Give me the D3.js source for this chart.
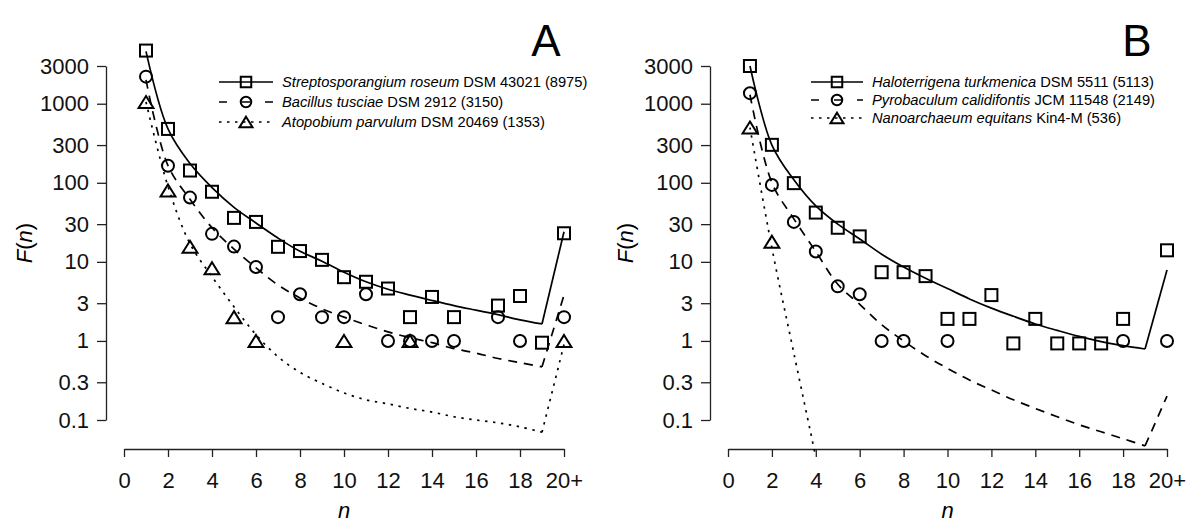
<!DOCTYPE html>
<html>
<head>
<meta charset="utf-8">
<script src="https://cdnjs.cloudflare.com/ajax/libs/d3/7.8.5/d3.min.js"></script>
<style>
  body { margin: 0; background: #fff; }
  svg { display: block; font-family: "Liberation Sans", Arial, Helvetica, sans-serif; }
</style>
</head>
<body>
<div id="chart"></div>
<script>
// n = 1..19, last slot is the "20+" bin
const nValues = d3.range(1, 21);
const xTicks = [0, 2, 4, 6, 8, 10, 12, 14, 16, 18, 20];
const yTicks = [0.1, 0.3, 1, 3, 10, 30, 100, 300, 1000, 3000];

// Panel A
const speciesA = ["Streptosporangium roseum", "Bacillus tusciae", "Atopobium parvulum"];
const strainA = ["DSM 43021 (8975)", "DSM 2912 (3150)", "DSM 20469 (1353)"];
const strepObs = [4700, 480, 143, 77, 36, 32, 15.5, 13.7, 10.6, 6.4, 5.6, 4.6, 2, 3.6, 2, null, 2.8, 3.7, 0.95, 23];
const strepFit = [4600, 480, 175, 87, 49, 31, 20, 13.6, 10.2, 7.4, 5.6, 4.5, 3.8, 3.25, 2.8, 2.45, 2.15, 1.85, 1.64, 24];
const bacilObs = [2200, 164, 65, 22.6, 15.6, 8.6, 2, 3.9, 2, 2, 3.9, 1, 1, 1, 1, null, 2, 1, null, 2];
const bacilFit = [2000, 165, 62, 27, 14.5, 8.4, 5.1, 3.5, 2.55, 2, 1.6, 1.3, 1.1, 0.95, 0.8, 0.7, 0.6, 0.53, 0.47, 3.8];
const atopoObs = [1050, 80, 15.5, 8.3, 2, 1, null, null, null, 1, null, null, 1, null, null, null, null, null, null, 1];
const atopoFit = [1050, 90, 17, 6.5, 2.7, 1.2, 0.63, 0.4, 0.29, 0.22, 0.18, 0.16, 0.14, 0.126, 0.11, 0.1, 0.092, 0.082, 0.07, 0.9];

// Panel B
const speciesB = ["Haloterrigena turkmenica", "Pyrobaculum calidifontis", "Nanoarchaeum equitans"];
const strainB = ["DSM 5511 (5113)", "JCM 11548 (2149)", "Kin4-M (536)"];
const haloObs = [3000, 302, 99, 42, 27, 21, 7.4, 7.4, 6.6, 1.9, 1.9, 3.8, 0.93, 1.9, 0.93, 0.93, 0.93, 1.9, null, 14];
const haloFit = [3000, 300, 109, 51, 30, 19.5, 12.5, 8.6, 6.2, 4.6, 3.4, 2.6, 2.05, 1.64, 1.36, 1.14, 0.98, 0.87, 0.79, 7.9];
const pyroObs = [1360, 94, 32, 13.5, 4.9, 3.9, 1, 1, null, 1, null, null, null, null, null, null, null, 1, null, 1];
const pyroFit = [1300, 100, 35, 13.5, 5.2, 2.9, 1.6, 1.0, 0.65, 0.45, 0.32, 0.24, 0.18, 0.14, 0.11, 0.087, 0.071, 0.058, 0.047, 0.2];
const nanoObs = [500, 18, null, null, null, null, null, null, null, null, null, null, null, null, null, null, null, null, null, null];
const nanoFit = [500, 15, 0.7, 0.034, null, null, null, null, null, null, null, null, null, null, null, null, null, null, null, null];

/************************************
 * Shared styles / layout
 ************************************/
const w = 1200;
const h = 532;
const styles = {
  solid: { dash: null, legendDash: null },
  dashed: { dash: "9,7", legendDash: "8,15" },
  dotted: { dash: "2.4,5.6", legendDash: "2.5,5.5" }
};

const panels = [
  {
    letter: "A", xRange: [124, 564], yAxisX: 106, letterX: 546, ylabX: 32,
    legend: { x0: 219, x1: 273, y: 82, step: 20 },
    series: [
      { name: speciesA[0], strain: strainA[0], obs: strepObs, fit: strepFit, shape: "square", style: "solid" },
      { name: speciesA[1], strain: strainA[1], obs: bacilObs, fit: bacilFit, shape: "circle", style: "dashed" },
      { name: speciesA[2], strain: strainA[2], obs: atopoObs, fit: atopoFit, shape: "triangle", style: "dotted" }
    ]
  },
  {
    letter: "B", xRange: [728, 1167], yAxisX: 710, letterX: 1137, ylabX: 633,
    legend: { x0: 811, x1: 863, y: 82, step: 18 },
    series: [
      { name: speciesB[0], strain: strainB[0], obs: haloObs, fit: haloFit, shape: "square", style: "solid" },
      { name: speciesB[1], strain: strainB[1], obs: pyroObs, fit: pyroFit, shape: "circle", style: "dashed" },
      { name: speciesB[2], strain: strainB[2], obs: nanoObs, fit: nanoFit, shape: "triangle", style: "dotted" }
    ]
  }
];

const svg = d3.select("#chart")
  .append("svg")
  .attr("width", w)
  .attr("height", h);

const yScale = d3.scaleLog().domain([0.1, 3000]).range([420, 66]);

// draw an open marker centred on (x, y)
const drawMarker = (g, shape, x, y, s) => {
  if (shape === "circle") {
    g.append("circle").attr("cx", x).attr("cy", y).attr("r", s * 0.5);
  } else if (shape === "square") {
    g.append("rect").attr("x", x - s / 2).attr("y", y - s / 2).attr("width", s).attr("height", s);
  } else {
    const hw = s * 0.62;
    g.append("path").attr("d", `M${x},${y - s * 0.5}L${x + hw},${y + s * 0.5}L${x - hw},${y + s * 0.5}Z`);
  }
};

/************************************
 * Draw one panel
 ************************************/
const drawPanel = (p, idx) => {
  const xScale = d3.scaleLinear().domain([0, 20]).range(p.xRange);
  const g = svg.append("g");

  // clip to plot region
  svg.append("clipPath").attr("id", "clip" + idx)
    .append("rect")
    .attr("x", p.yAxisX).attr("y", 30)
    .attr("width", p.xRange[1] + 20 - p.yAxisX).attr("height", 428);

  // Axes
  const xAxis = d3.axisBottom(xScale)
    .tickValues(xTicks)
    .tickFormat(d => d === 20 ? "20+" : d)
    .tickSizeInner(8).tickSizeOuter(0).tickPadding(15);
  const yAxis = d3.axisLeft(yScale)
    .tickValues(yTicks)
    .tickFormat(d => d)
    .tickSizeInner(9).tickSizeOuter(0).tickPadding(8);

  const gx = g.append("g").attr("transform", "translate(0,449)").call(xAxis);
  const gy = g.append("g").attr("transform", `translate(${p.yAxisX},0)`).call(yAxis);
  [gx, gy].forEach(a => {
    a.selectAll("path, line").attr("stroke", "#222").attr("stroke-width", 1.3);
    a.selectAll("text").attr("font-size", 22).attr("fill", "#111")
      .attr("font-family", "'Liberation Sans', Arial, sans-serif");
  });

  // axis titles
  const cx = (p.xRange[0] + p.xRange[1]) / 2;
  g.append("text").attr("x", cx).attr("y", 518).attr("text-anchor", "middle")
    .attr("font-size", 22).attr("font-style", "italic").text("n");

  const yl = g.append("text")
    .attr("transform", `translate(${p.ylabX},243) rotate(-90)`)
    .attr("text-anchor", "middle").attr("font-size", 22);
  yl.append("tspan").attr("font-style", "italic").text("F");
  yl.append("tspan").text("(");
  yl.append("tspan").attr("font-style", "italic").text("n");
  yl.append("tspan").text(")");

  // panel letter
  g.append("text").attr("x", p.letterX).attr("y", 56).attr("text-anchor", "middle")
    .attr("font-size", 44).text(p.letter);

  // fitted curves: smooth for 1..19, straight jump to the 20+ bin
  const line = d3.line()
    .defined(d => d.v != null)
    .x(d => xScale(d.n))
    .y(d => yScale(d.v));

  const plot = g.append("g").attr("clip-path", `url(#clip${idx})`);
  p.series.forEach(s => {
    const pts = nValues.map((n, i) => ({ n: n, v: s.fit[i] }));
    const st = styles[s.style];
    plot.append("path")
      .attr("d", line.curve(d3.curveCatmullRom.alpha(0.5))(pts.slice(0, 19)))
      .attr("fill", "none").attr("stroke", "#000").attr("stroke-width", 1.7)
      .attr("stroke-dasharray", st.dash);
    plot.append("path")
      .attr("d", line.curve(d3.curveLinear)(pts.slice(18, 20)))
      .attr("fill", "none").attr("stroke", "#000").attr("stroke-width", 1.7)
      .attr("stroke-dasharray", st.dash);
  });

  // observed points
  const marks = g.append("g").attr("fill", "none").attr("stroke", "#000").attr("stroke-width", 2);
  p.series.forEach(s => {
    nValues.forEach((n, i) => {
      if (s.obs[i] != null) drawMarker(marks, s.shape, xScale(n), yScale(s.obs[i]), 12);
    });
  });

  // Legend
  const lg = g.append("g");
  p.series.forEach((s, i) => {
    const y = p.legend.y + i * p.legend.step;
    const st = styles[s.style];
    lg.append("line")
      .attr("x1", p.legend.x0).attr("x2", p.legend.x1)
      .attr("y1", y).attr("y2", y)
      .attr("stroke", "#000").attr("stroke-width", 1.7)
      .attr("stroke-dasharray", st.legendDash);
    const mg = lg.append("g").attr("fill", "none").attr("stroke", "#000").attr("stroke-width", 2);
    drawMarker(mg, s.shape, (p.legend.x0 + p.legend.x1) / 2, y, 10.5);
    const t = lg.append("text")
      .attr("x", p.legend.x1 + 9).attr("y", y + 5)
      .attr("font-size", 14.7);
    t.append("tspan").attr("font-style", "italic").text(s.name);
    t.append("tspan").text(" " + s.strain);
  });
};

panels.forEach(drawPanel);
</script>
</body>
</html>
